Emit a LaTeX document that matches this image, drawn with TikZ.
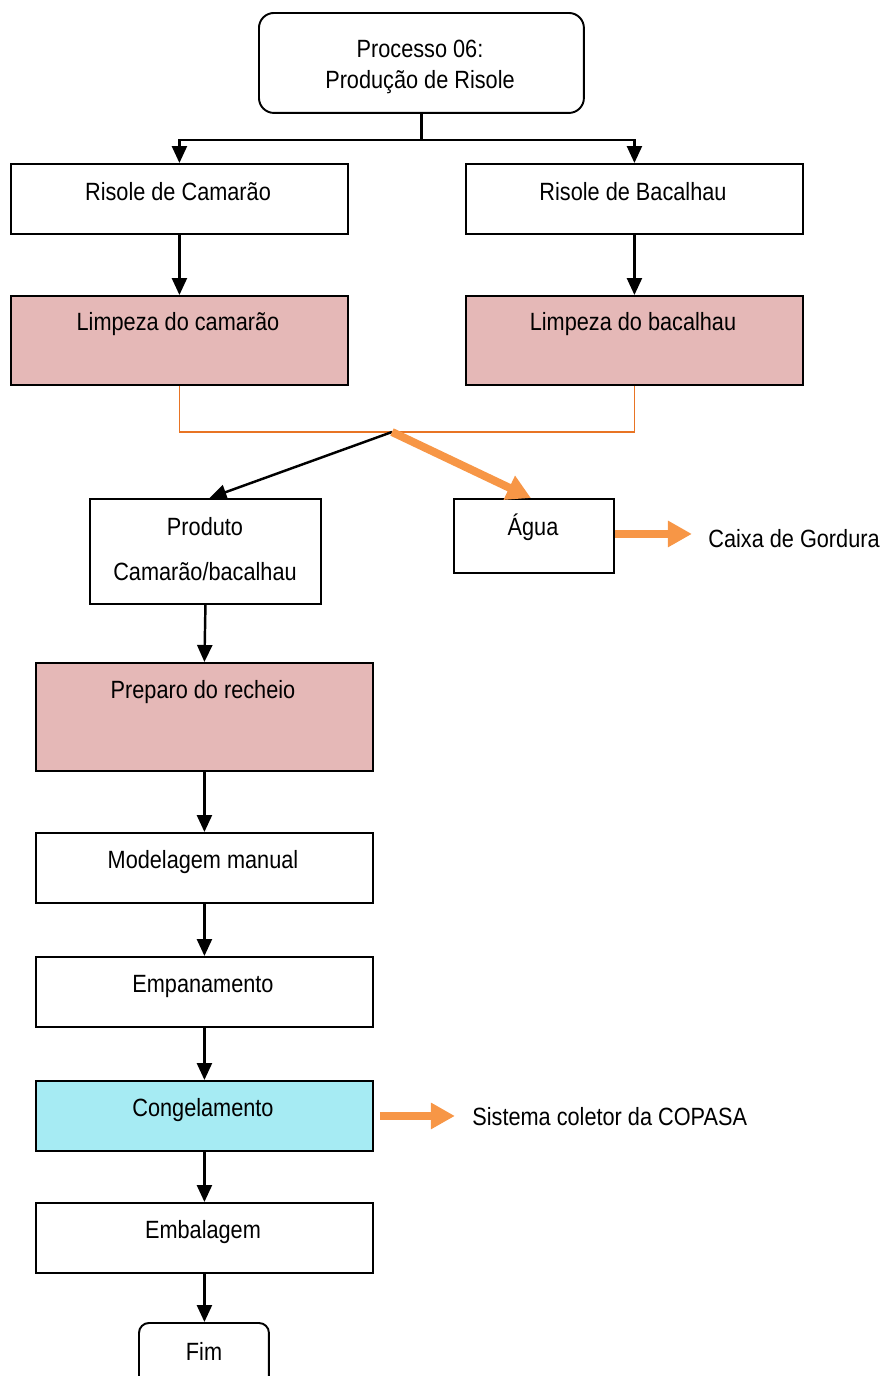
\documentclass[tikz,border=0pt]{standalone}
\usepackage{fontspec}
\setmainfont{Liberation Sans}[FakeStretch=0.87]
\usetikzlibrary{arrows.meta,calc}
\definecolor{rosa}{RGB}{229,184,183}
\definecolor{ciano}{RGB}{166,235,243}
\definecolor{laranja}{RGB}{247,150,70}
\definecolor{laranjaesc}{RGB}{232,116,36}
\begin{document}
\begin{tikzpicture}[x=0.02cm,y=-0.02cm,
  every node/.style={font=\fontsize{14.2}{17}\selectfont},
  box/.style={draw=black,line width=1.1pt,anchor=north west,inner sep=0pt},
  wbox/.style={box,fill=white,minimum width=6.74cm,minimum height=1.4cm},
  rosabox/.style={box,fill=rosa,minimum width=6.74cm},
  txt/.style={anchor=base,inner sep=0pt},
  seta/.style={line width=1.4pt,-{Triangle[length=0.34cm,width=0.3cm]}},
  setalar/.style={draw=laranja,line width=0.16cm,-{Triangle[length=0.48cm,width=0.5cm]}},
  linhalar/.style={draw=laranjaesc,line width=0.9pt}]
\useasboundingbox (0,0) rectangle (883,1376);

% caixas do fluxo
\node[box,rounded corners=0.3cm,minimum width=6.5cm,minimum height=2cm] (topo) at (258,12) {};
\node[txt] (t1) at (420,57) {Processo 06:};
\node[txt] (t2) at (420,88) {Produção de Risole};

\node[wbox] (rc) at (10,163) {};
\node[txt] (rct) at (178,200) {Risole de Camarão};
\node[wbox] (rb) at (465,163) {};
\node[txt] (rbt) at (633,200) {Risole de Bacalhau};

\node[rosabox,minimum height=1.78cm] (lc) at (10,295) {};
\node[txt] (lct) at (178,330) {Limpeza do camarão};
\node[rosabox,minimum height=1.78cm] (lb) at (465,295) {};
\node[txt] (lbt) at (633,330) {Limpeza do bacalhau};

\node[box,minimum width=4.62cm,minimum height=2.1cm] (prod) at (89,498) {};
\node[txt] (pt1) at (205,535) {Produto};
\node[txt] (pt2) at (205,580) {Camarão/bacalhau};

\node[box,minimum width=3.2cm,minimum height=1.48cm] (agua) at (453,498) {};
\node[txt] (at) at (533,535) {Água};
\node[anchor=base west,inner sep=0pt] (cg) at (708,547) {Caixa de Gordura};

\node[rosabox,minimum height=2.16cm] (prep) at (35,662) {};
\node[txt] (prt) at (203,698) {Preparo do recheio};

\node[wbox] (mod) at (35,832) {};
\node[txt] (mt) at (203,868) {Modelagem manual};

\node[wbox] (emp) at (35,956) {};
\node[txt] (et) at (203,992) {Empanamento};

\node[wbox,fill=ciano] (cong) at (35,1080) {};
\node[txt] (ct) at (203,1116) {Congelamento};
\node[anchor=base west,inner sep=0pt] (sc) at (472,1125) {Sistema coletor da COPASA};

\node[wbox] (emb) at (35,1202) {};
\node[txt] (ebt) at (203,1238) {Embalagem};

\node[box,rounded corners=0.2cm,minimum width=2.6cm,minimum height=1.4cm] (fim) at (138,1322) {};
\node[txt] (ft) at (204,1360) {Fim};

% conectores
\coordinate (div) at ($(topo.south)+(0,26)$);
\draw[line width=1.4pt] (topo.south) -- (div);
\draw[seta] (div) -| (rc.north);
\draw[seta] (div) -| (rb.north);
\draw[seta] (rc.south) -- (lc.north);
\draw[seta] (rb.south) -- (lb.north);

\coordinate (j) at (392,432);
\draw[linhalar] (lc.south) |- (j) -| (lb.south);
\draw[seta] (j) -- ($(prod.north)+(4,0)$);
\draw[setalar] (j) -- ($(agua.north)+(-3,0)$);
\coordinate (cgseta) at ($(agua.east)+(77,-2)$);
\draw[setalar] ($(agua.east)+(0,-2)$) -- (cgseta);

\draw[seta] (prod.south) -- (prep.north);
\draw[seta] (prep.south) -- (mod.north);
\draw[seta] (mod.south) -- (emp.north);
\draw[seta] (emp.south) -- (cong.north);
\coordinate (scseta) at ($(cong.east)+(81,0)$);
\draw[setalar] ($(cong.east)+(6,0)$) -- (scseta);
\draw[seta] (cong.south) -- (emb.north);
\draw[seta] (emb.south) -- (emb.south |- fim.north);
\end{tikzpicture}
\end{document}
